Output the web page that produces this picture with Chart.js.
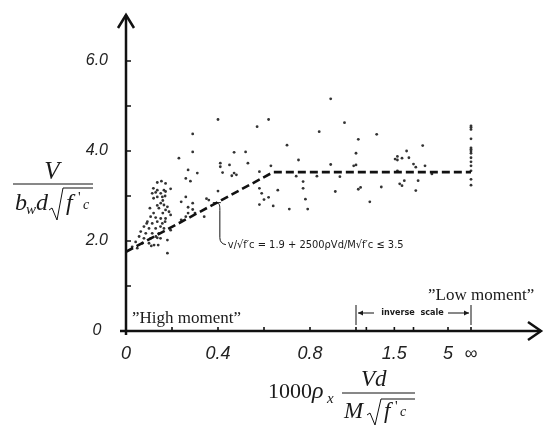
<!DOCTYPE html>
<html lang="en">
<head>
<meta charset="UTF-8">
<title>Shear strength vs. moment</title>
<script src="https://cdn.jsdelivr.net/npm/chart.js"></script>
<style>
  html, body { margin: 0; padding: 0; background: #fff; }
  #chart { display: block; }
</style>
</head>
<body>
<canvas id="chart" width="544" height="426"></canvas>
<script>
// x is read in axis units: linear up to 1.0, then inverse scale 1 + 0.5*(1 - 1/x), so 1.5 is infinity
const xTickPos = [0, 0.2, 0.4, 0.6, 0.8, 1.0, 1.045, 1.1667, 1.25, 1.4, 1.5];
const xTickLabels = ['0', '', '0.4', '', '0.8', '', '', '1.5', '', '5', '∞'];
const yTickLabels = ['0', '', '2.0', '', '4.0', '', '6.0', ''];

// design equation (dashed)
const lineX = [0, 0.64, 1.5];
const lineY = [1.76, 3.53, 3.53];

// test results
const clusterPts = [
  [0.136, 3.30], [0.154, 3.33], [0.172, 3.28], [0.119, 3.17], [0.136, 3.13], [0.165, 3.13],
  [0.194, 3.16], [0.114, 3.06], [0.129, 3.08], [0.151, 3.06], [0.172, 3.10], [0.136, 2.98],
  [0.158, 2.98], [0.104, 2.73], [0.136, 2.79], [0.151, 2.84], [0.165, 2.80], [0.180, 2.76],
  [0.143, 2.73], [0.172, 2.69], [0.187, 2.65], [0.107, 2.54], [0.129, 2.52], [0.151, 2.50],
  [0.172, 2.50], [0.194, 2.58], [0.093, 2.43], [0.114, 2.39], [0.136, 2.43], [0.158, 2.39],
  [0.078, 2.32], [0.100, 2.28], [0.129, 2.28], [0.165, 2.28], [0.194, 2.24], [0.064, 2.21],
  [0.086, 2.17], [0.114, 2.17], [0.143, 2.17], [0.057, 2.10], [0.078, 2.06], [0.107, 2.06],
  [0.136, 2.07], [0.042, 1.98], [0.071, 1.95], [0.100, 1.95], [0.122, 1.91], [0.027, 1.87],
  [0.049, 1.84], [0.180, 1.73], [0.12, 2.62], [0.16, 2.62], [0.15, 2.32], [0.17, 2.43],
  [0.09, 2.39], [0.13, 2.10], [0.15, 2.06], [0.18, 2.02], [0.11, 1.89], [0.14, 1.91],
  [0.16, 2.90], [0.12, 2.95], [0.17, 3.00]
];
const midPts = [
  [0.40, 4.70], [0.57, 4.54], [0.62, 4.70], [0.29, 4.38], [0.70, 4.13], [0.29, 3.98],
  [0.23, 3.84], [0.47, 3.97], [0.52, 3.98], [0.75, 3.80], [0.27, 3.58], [0.31, 3.51],
  [0.41, 3.73], [0.41, 3.65], [0.45, 3.69], [0.53, 3.73], [0.42, 3.52], [0.46, 3.45],
  [0.47, 3.51], [0.48, 3.47], [0.63, 3.67], [0.58, 3.54], [0.26, 3.39], [0.28, 3.33],
  [0.74, 3.44], [0.77, 3.32], [0.77, 3.17], [0.66, 3.13], [0.78, 2.93], [0.79, 2.71],
  [0.71, 2.71], [0.64, 2.78], [0.58, 3.17], [0.59, 3.06], [0.60, 2.92], [0.62, 2.97],
  [0.58, 2.81], [0.40, 3.11], [0.35, 2.94], [0.36, 2.91], [0.34, 2.54], [0.24, 2.87],
  [0.26, 2.98], [0.29, 2.84], [0.27, 2.75], [0.29, 2.70], [0.30, 2.62], [0.27, 2.62],
  [0.24, 2.47], [0.26, 2.54]
];
const rightPts = [
  [0.84, 4.43], [0.89, 5.16], [0.95, 4.63], [1.09, 4.37], [1.01, 4.26], [1.29, 4.12],
  [1.22, 4.00], [1.00, 3.95], [1.17, 3.82], [1.18, 3.88], [1.18, 3.80], [1.20, 3.84],
  [1.23, 3.85], [0.89, 3.70], [0.99, 3.67], [1.00, 3.69], [1.25, 3.71], [1.26, 3.64],
  [1.30, 3.67], [1.18, 3.56], [1.33, 3.49], [0.83, 3.44], [0.93, 3.43], [0.91, 3.10],
  [1.01, 3.15], [1.02, 3.19], [1.11, 3.20], [1.06, 2.87], [1.19, 3.27], [1.20, 3.23],
  [1.21, 3.34], [1.27, 3.34], [1.26, 3.12]
];
const limitY = [4.56, 4.53, 4.48, 4.27, 4.07, 4.04, 4.00, 3.95, 3.85, 3.76, 3.67, 3.56, 3.37, 3.24];

const toXY = pts => pts.map(p => ({ x: p[0], y: p[1] }));
const serif = "'Liberation Serif', 'DejaVu Serif', serif";
const sans = "'Liberation Sans', Arial, sans-serif";

function radical(ctx, x, yTop, yBot, xEnd) {
  ctx.beginPath();
  ctx.moveTo(x, yBot - 10);
  ctx.lineTo(x + 3, yBot - 12);
  ctx.lineTo(x + 8, yBot);
  ctx.lineTo(x + 14, yTop);
  ctx.lineTo(xEnd, yTop);
  ctx.stroke();
}

const decor = {
  id: 'decor',
  afterDraw(chart) {
    const { ctx, scales: { x, y } } = chart;
    const x0 = x.getPixelForValue(0);
    const y0 = y.getPixelForValue(0);
    ctx.save();
    ctx.strokeStyle = '#111';
    ctx.fillStyle = '#1a1a1a';

    // axes with open arrowheads
    ctx.lineWidth = 2.5;
    ctx.beginPath();
    ctx.moveTo(x0 - 6, y0); ctx.lineTo(x.right + 1, y0);
    ctx.moveTo(x0, y0 + 4); ctx.lineTo(x0, y.top - 1);
    ctx.stroke();
    ctx.beginPath();
    ctx.moveTo(x0 - 8, y.top + 12); ctx.lineTo(x0, y.top - 1); ctx.lineTo(x0 + 8, y.top + 12);
    ctx.moveTo(x.right - 12, y0 - 9); ctx.lineTo(x.right + 1, y0); ctx.lineTo(x.right - 12, y0 + 9);
    ctx.stroke();

    // tick marks inside the axes
    ctx.lineWidth = 1.6;
    ctx.beginPath();
    y.ticks.forEach(t => {
      if (t.value <= 0 || t.value >= 7) return;
      const py = y.getPixelForValue(t.value);
      ctx.moveTo(x0, py); ctx.lineTo(x0 + 5, py);
    });
    x.ticks.forEach(t => {
      if (t.value <= 0) return;
      const px = x.getPixelForValue(t.value);
      ctx.moveTo(px, y0); ctx.lineTo(px, y0 - 4);
    });
    ctx.stroke();

    // leader to the equation
    const au = 0.395;
    const ax = x.getPixelForValue(au);
    const ay = y.getPixelForValue(lineY[0] + au * (lineY[1] - lineY[0]) / lineX[1]);
    ctx.lineWidth = 1;
    ctx.beginPath();
    ctx.moveTo(ax - 4, ay); ctx.lineTo(ax + 4, ay);
    ctx.moveTo(ax, ay);
    ctx.bezierCurveTo(ax + 3, ay + 1, ax + 3, ay + 3, ax + 3, ay + 8);
    ctx.lineTo(ax + 3, ay + 35);
    ctx.quadraticCurveTo(ax + 3, ay + 41, ax + 9, ay + 42);
    ctx.stroke();
    ctx.font = "11px 'DejaVu Sans Condensed', 'DejaVu Sans', sans-serif";
    ctx.textBaseline = 'middle';
    ctx.textAlign = 'left';
    ctx.fillText("v/√f′c = 1.9 + 2500ρVd/M√f′c ≤ 3.5", ax + 11, ay + 42, 176);

    // inverse scale bracket
    const b1 = x.getPixelForValue(1.0), b2 = x.getPixelForValue(1.5), by = 313;
    ctx.lineWidth = 1;
    ctx.beginPath();
    ctx.moveTo(b1, by - 8); ctx.lineTo(b1, by + 12);
    ctx.moveTo(b2, by - 8); ctx.lineTo(b2, by + 12);
    ctx.moveTo(b1 + 2, by); ctx.lineTo(b1 + 18, by);
    ctx.moveTo(b2 - 23, by); ctx.lineTo(b2 - 2, by);
    ctx.stroke();
    ctx.beginPath();
    ctx.moveTo(b1 + 2, by); ctx.lineTo(b1 + 7, by - 2.5); ctx.lineTo(b1 + 7, by + 2.5); ctx.closePath();
    ctx.moveTo(b2 - 2, by); ctx.lineTo(b2 - 7, by - 2.5); ctx.lineTo(b2 - 7, by + 2.5); ctx.closePath();
    ctx.fill();
    ctx.font = "bold 9px 'DejaVu Sans Condensed', 'DejaVu Sans', sans-serif";
    ctx.textAlign = 'center';
    ctx.fillText('inverse  scale', (b1 + b2) / 2 - 1, by, 66);

    // region notes
    ctx.font = '17px ' + serif;
    ctx.textAlign = 'left';
    ctx.textBaseline = 'alphabetic';
    ctx.fillText('”High moment”', x0 + 6, 323);
    ctx.fillText('”Low moment”', 428, 300);

    // y-axis title: V / (b_w d √f'c)
    ctx.font = 'italic 25px ' + serif;
    ctx.textAlign = 'center';
    ctx.fillText('V', 52, 179);
    ctx.lineWidth = 1;
    ctx.beginPath(); ctx.moveTo(13, 184); ctx.lineTo(93, 184); ctx.stroke();
    ctx.textAlign = 'left';
    ctx.font = 'italic 24px ' + serif;
    ctx.fillText('b', 15, 210);
    ctx.font = 'italic 15px ' + serif;
    ctx.fillText('w', 26, 214);
    ctx.font = 'italic 24px ' + serif;
    ctx.fillText('d', 36, 210);
    radical(ctx, 49, 188, 220, 93);
    ctx.fillText('f', 66, 210);
    ctx.font = '15px ' + serif;
    ctx.fillText("'", 78, 202);
    ctx.font = 'italic 14px ' + serif;
    ctx.fillText('c', 83, 209);

    // x-axis title: 1000 ρx Vd / (M √f'c)
    ctx.font = '22px ' + serif;
    ctx.fillText('1000', 268, 398);
    ctx.font = 'italic 24px ' + serif;
    ctx.fillText('ρ', 312, 398);
    ctx.font = 'italic 15px ' + serif;
    ctx.fillText('x', 327, 403);
    ctx.beginPath(); ctx.moveTo(342, 393); ctx.lineTo(415, 393); ctx.stroke();
    ctx.font = 'italic 23px ' + serif;
    ctx.fillText('Vd', 361, 386);
    ctx.fillText('M', 344, 418);
    radical(ctx, 367, 399, 425, 415);
    ctx.fillText('f', 384, 418);
    ctx.font = '15px ' + serif;
    ctx.fillText("'", 395, 411);
    ctx.font = 'italic 14px ' + serif;
    ctx.fillText('c', 400, 416);

    ctx.restore();
  }
};

new Chart(document.getElementById('chart'), {
  type: 'scatter',
  data: {
    datasets: [
      {
        data: lineX.map((v, i) => ({ x: v, y: lineY[i] })),
        showLine: true,
        borderColor: '#111',
        borderWidth: 2.6,
        borderDash: [8, 4],
        pointRadius: 0,
        fill: false
      },
      {
        data: toXY([...clusterPts, ...midPts, ...rightPts]).concat(limitY.map(v => ({ x: 1.5, y: v }))),
        pointRadius: 1.4,
        pointBackgroundColor: '#333',
        pointBorderWidth: 0
      }
    ]
  },
  options: {
    responsive: false,
    animation: false,
    devicePixelRatio: 1,
    layout: { padding: { left: 0, right: 4, top: 16, bottom: 0 } },
    plugins: { legend: { display: false }, tooltip: { enabled: false } },
    scales: {
      x: {
        type: 'linear', min: 0, max: 1.8,
        afterFit: s => { s.height = 95; s.paddingLeft = 0; s.paddingRight = 0; },
        afterBuildTicks: s => { s.ticks = xTickPos.map(v => ({ value: v })); },
        grid: { display: false, drawTicks: false },
        border: { display: false },
        ticks: {
          autoSkip: false, maxRotation: 0, padding: 12, color: '#222',
          font: { family: sans, size: 18, style: 'italic' },
          callback: (v, i) => xTickLabels[i]
        }
      },
      y: {
        min: 0, max: 7,
        afterFit: s => { s.width = 126; s.paddingTop = 0; s.paddingBottom = 0; },
        grid: { display: false, drawTicks: false },
        border: { display: false },
        ticks: {
          stepSize: 1, crossAlign: 'center', padding: 18, color: '#222',
          font: { family: sans, size: 16, style: 'italic' },
          callback: v => yTickLabels[v]
        }
      }
    }
  },
  plugins: [decor]
});
</script>
</body>
</html>
